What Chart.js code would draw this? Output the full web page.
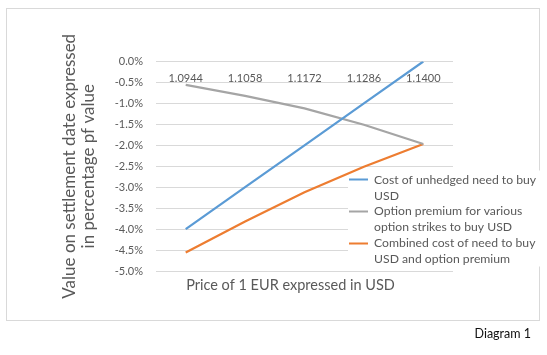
<!DOCTYPE html>
<html>
<head>
<meta charset="utf-8">
<script src="https://cdn.jsdelivr.net/npm/chart.js@4.4.1/dist/chart.umd.min.js"></script>
<style>
  html, body { margin: 0; padding: 0; background: #fff; }
  #wrap { position: relative; width: 547px; height: 355px; overflow: hidden; }
  #frame { position: absolute; left: 6px; top: 8px; width: 532px; height: 311px; border: 1px solid #d9d9d9; box-sizing: content-box; }
  #cv { position: absolute; left: 0; top: 0; }
  #note { position: absolute; right: 16px; top: 326px; font: 12.5px Lato, "Open Sans", sans-serif; color: #111; white-space: nowrap; }
</style>
</head>
<body>
<div id="wrap">
  <div id="frame"></div>
  <canvas id="cv" width="547" height="355"></canvas>
  <div id="note">Diagram 1</div>
</div>
<script>
// ---- data ----
const categories = ['1.0944', '1.1058', '1.1172', '1.1286', '1.1400'];
const unhedgedCost = [-4.0, -3.0, -2.0, -1.0, 0.0];
const optionPremium = [-0.56, -0.82, -1.12, -1.51, -1.97];
const combinedCost = [-4.56, -3.82, -3.12, -2.51, -1.97];
const seriesNames = [
  ['Cost of unhedged need to buy', 'USD'],
  ['Option premium for various', 'option strikes to buy USD'],
  ['Combined cost of need to buy', 'USD and option premium']
];
const yTitle = ['Value on settlement date expressed', 'in percentage pf value'];
const xTitle = 'Price of 1 EUR expressed in USD';

const FONT = 'Lato, "Open Sans", sans-serif';
const TXT = '#595959';

const legendPlacer = {
  id: 'legendPlacer',
  afterInit(chart) {
    const lg = chart.legend;
    if (!lg) return;
    const origFit = lg.fit.bind(lg);
    lg.fit = function () { origFit(); this.width = 0; };
    const origDraw = lg.draw.bind(lg);
    lg.draw = function (area) {
      const c = chart.ctx;
      c.save();
      c.fillStyle = '#ffffff';
      c.fillRect(this.left - 1, this.top - 3, 192, 96);
      c.restore();
      origDraw(area);
    };
  },
  afterLayout(chart) {
    const lg = chart.legend;
    const ca = chart.chartArea;
    if (lg) {
      lg.left = ca.left + 193;
      lg.top = ca.top + 112;
      lg.width = 192;
      lg.height = 96;
      lg.right = lg.left + lg.width;
      lg.bottom = lg.top + lg.height;
    }
    const s = chart.scales.x2;
    if (s) { s.left -= 28; s.width += 28; }
  }
};

new Chart(document.getElementById('cv'), {
  type: 'line',
  data: {
    labels: categories,
    datasets: [
      { label: seriesNames[0].join(' '), data: unhedgedCost, borderColor: '#5B9BD5', backgroundColor: '#5B9BD5', borderWidth: 2.25, pointRadius: 0, tension: 0, xAxisID: 'x', yAxisID: 'y' },
      { label: seriesNames[1].join(' '), data: optionPremium, borderColor: '#A5A5A5', backgroundColor: '#A5A5A5', borderWidth: 2.25, pointRadius: 0, tension: 0, xAxisID: 'x', yAxisID: 'y' },
      { label: seriesNames[2].join(' '), data: combinedCost, borderColor: '#ED7D31', backgroundColor: '#ED7D31', borderWidth: 2.25, pointRadius: 0, tension: 0, xAxisID: 'x', yAxisID: 'y' }
    ]
  },
  plugins: [legendPlacer],
  options: {
    responsive: false,
    animation: false,
    devicePixelRatio: 1,
    layout: { padding: { left: 0, top: 61.5, right: 94, bottom: 60.5 } },
    plugins: {
      tooltip: { enabled: false },
      legend: {
        position: 'right',
        align: 'start',
        labels: {
          boxWidth: 19,
          boxHeight: 2,
          padding: 0,
          color: TXT,
          font: { family: FONT, size: 12.2, lineHeight: 1.31 },
          generateLabels(chart) {
            return chart.data.datasets.map((ds, i) => ({
              text: seriesNames[i],
              fillStyle: ds.borderColor,
              strokeStyle: ds.borderColor,
              lineWidth: 0,
              fontColor: TXT,
              hidden: false,
              datasetIndex: i
            }));
          }
        }
      }
    },
    scales: {
      x: {
        axis: 'x',
        type: 'category',
        position: { y: 0 },
        offset: true,
        grid: { display: false, drawTicks: false },
        border: { display: false },
        ticks: { color: TXT, font: { family: FONT, size: 11 }, padding: 10, maxRotation: 0, autoSkip: false }
      },
      x2: {
        axis: 'x',
        type: 'category',
        labels: categories,
        position: 'bottom',
        offset: true,
        grid: { display: false, drawTicks: false },
        border: { display: false },
        ticks: { display: false },
        title: { display: true, text: xTitle, color: TXT, font: { family: FONT, size: 14.5, lineHeight: 1.25 }, padding: { top: 0, bottom: 0 } },
        afterFit(s) { s.height = 23.5; }
      },
      y: {
        type: 'linear',
        position: 'left',
        min: -5,
        max: 0,
        grid: { color: '#d9d9d9', lineWidth: 1, drawTicks: false },
        border: { display: false },
        ticks: {
          stepSize: 0.5,
          color: TXT,
          font: { family: FONT, size: 11 },
          padding: 13,
          callback: (v) => v.toFixed(1) + '%'
        },
        title: { display: true, text: yTitle, color: TXT, font: { family: FONT, size: 17, lineHeight: 1.1 }, padding: { top: 60.5, bottom: 0 } },
        afterFit(s) { s.width = 156; }
      }
    }
  }
});
</script>
</body>
</html>
